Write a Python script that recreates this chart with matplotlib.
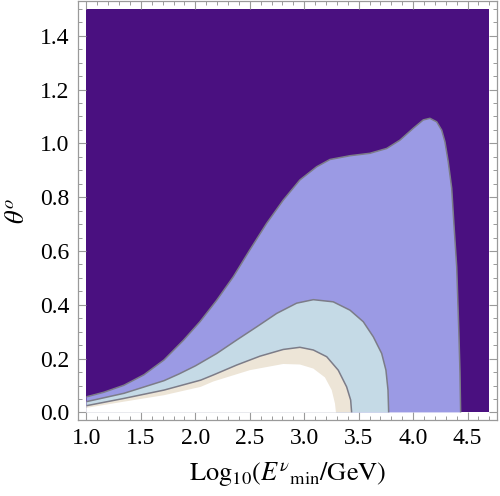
import matplotlib
matplotlib.use("Agg")
import matplotlib.pyplot as plt
import numpy as np

plt.rcParams['font.family'] = ['Liberation Serif', 'DejaVu Serif']
plt.rcParams['mathtext.fontset'] = 'stix'

# Region bounds
x_range = [1.0, 4.7]
y_range = [0.0, 1.5]

# Boundary 1: dark purple / lavender
b1_x = [1.0, 1.16, 1.344, 1.528, 1.712, 1.89, 2.042, 2.196, 2.348, 2.50, 2.655, 2.807, 2.96,
        3.114, 3.236, 3.42, 3.603, 3.757, 3.879, 4.001, 4.093, 4.154, 4.216, 4.262, 4.292, 4.322,
        4.354, 4.375, 4.40, 4.42, 4.43, 4.436]
b1_y = [0.058, 0.075, 0.101, 0.140, 0.195, 0.268, 0.337, 0.417, 0.504, 0.604, 0.703, 0.789, 0.864,
        0.913, 0.940, 0.954, 0.963, 0.981, 1.012, 1.056, 1.087, 1.093, 1.080, 1.049, 1.006, 0.932,
        0.833, 0.696, 0.541, 0.294, 0.150, 0.0]

# Boundary 2: lavender / light blue
b2_x = [1.0, 1.344, 1.712, 1.85, 2.0, 2.196, 2.379, 2.563, 2.747, 2.93, 3.083, 3.266, 3.42, 3.542,
        3.634, 3.711, 3.75, 3.769, 3.775]
b2_y = [0.040, 0.071, 0.118, 0.143, 0.173, 0.219, 0.269, 0.318, 0.368, 0.406, 0.419, 0.411, 0.380, 0.337,
        0.281, 0.219, 0.157, 0.083, 0.0]

# Boundary 3: light blue / beige
b3_x = [1.0, 1.344, 1.712, 2.049, 2.164, 2.379, 2.593, 2.807, 2.96, 3.083, 3.206, 3.312, 3.389, 3.426, 3.435]
b3_y = [0.025, 0.052, 0.083, 0.120, 0.139, 0.176, 0.209, 0.234, 0.242, 0.232, 0.207, 0.157, 0.095, 0.046, 0.0]

# Boundary 4: beige / white
b4_x = [1.0, 1.344, 1.712, 2.049, 2.165, 2.50, 2.807, 2.96, 3.083, 3.19, 3.252, 3.282, 3.291]
b4_y = [0.017, 0.040, 0.064, 0.095, 0.115, 0.157, 0.180, 0.178, 0.163, 0.130, 0.083, 0.033, 0.0]

c_dark = '#4A1080'
c_lav = '#9B9AE4'
c_blue = '#C5DAE6'
c_beige = '#EDE5D7'
c_white = '#FFFFFF'
c_line = '#7C7C88'
c_frame = '#9A9A9A'

fig = plt.figure(figsize=(5.0, 4.96), dpi=100)
ax = fig.add_axes([0.156, 0.153, 0.838, 0.845])

ax.fill([x_range[0], x_range[1], x_range[1], x_range[0]],
        [y_range[0], y_range[0], y_range[1], y_range[1]], color=c_dark, lw=0, zorder=1)

def region(bx, by, color, z):
    xs = [bx[0]] + list(bx)
    ys = [0.0] + list(by)
    ax.fill(xs, ys, color=color, lw=0, zorder=z)

region(b1_x, b1_y, c_lav, 2)
region(b2_x, b2_y, c_blue, 3)
region(b3_x, b3_y, c_beige, 4)
region(b4_x, b4_y, c_white, 5)
for bx, by in [(b1_x, b1_y), (b2_x, b2_y), (b3_x, b3_y)]:
    ax.plot(bx, by, color=c_line, lw=1.1, zorder=6, solid_joinstyle='round', solid_capstyle='butt')

ax.set_xlim(0.922, 4.77)
ax.set_ylim(-0.0286, 1.529)

ax.set_xticks(np.arange(1.0, 4.51, 0.5))
ax.set_xticks(np.arange(1.0, 4.75, 0.1), minor=True)
ax.set_yticks(np.arange(0.0, 1.41, 0.2))
ax.set_yticks(np.arange(0.0, 1.51, 0.05), minor=True)
ax.set_xticklabels(['%.1f' % v for v in np.arange(1.0, 4.51, 0.5)])
ax.set_yticklabels(['%.1f' % v for v in np.arange(0.0, 1.41, 0.2)])

ax.tick_params(which='both', direction='in', top=True, right=True, color=c_frame, labelsize=17)
ax.tick_params(which='major', length=5.5, width=0.8, pad=6)
ax.tick_params(which='minor', length=3, width=0.7)
for s in ax.spines.values():
    s.set_color(c_frame)
    s.set_linewidth(0.9)

ax.set_xlabel(r'$\mathrm{Log}_{10}(E^{\nu}{}_{\mathrm{min}}/\mathrm{GeV})$', fontsize=19, labelpad=8)
ax.set_ylabel(r'$\theta^{o}$', fontsize=19, labelpad=8)

fig.savefig('out.png', dpi=100)
